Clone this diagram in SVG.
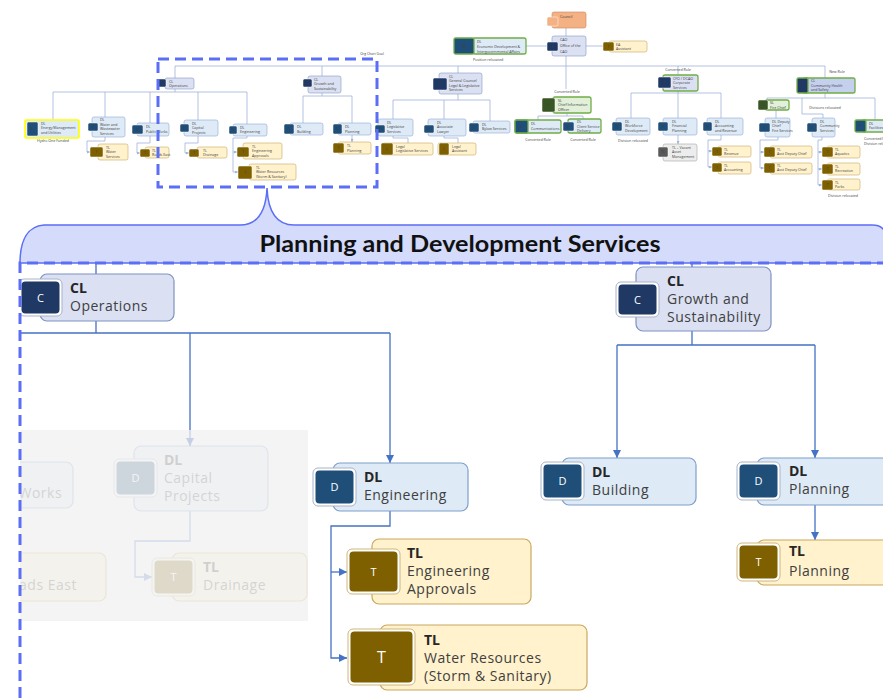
<svg xmlns="http://www.w3.org/2000/svg" width="883" height="698" viewBox="0 0 883 698">
<defs>
  <style>
    text{font-family:"Open Sans","Liberation Sans",sans-serif}
    /* overview chart */
    .ov text{font-size:3.6px;fill:#404040}
    .ovl{font-size:3.4px;fill:#404040;text-anchor:middle;font-family:"Open Sans",sans-serif}
    .o-cl{fill:#dbe1f3;stroke:#8497c5;stroke-width:.6}
    .o-dl{fill:#deeaf6;stroke:#8eaad6;stroke-width:.6}
    .o-tl{fill:#fff2cc;stroke:#c8a964;stroke-width:.6}
    .o-gy{fill:#ededed;stroke:#a6a6a6;stroke-width:.6}
    .o-or{fill:#f4b183;stroke:#c9865a;stroke-width:.6}
    .o-sl{fill:#e2efd9;stroke:#70ad47;stroke-width:1.3}
    .grn{stroke:#70ad47;stroke-width:1.3}
    .ob{stroke:#fff;stroke-width:.5}
    .ob-cl{fill:#1f3864}.ob-dl{fill:#1f4e79}.ob-tl{fill:#7f6000}.ob-sl{fill:#375623}.ob-gy{fill:#595959}.ob-or{fill:#f4b183}
    .oc{fill:#fff;font-size:3px;text-anchor:middle}
    .owire{fill:none;stroke:#9fb3dc;stroke-width:.8}
    /* detail chart */
    .box{stroke-width:1.2}
    .cl .box{fill:#dbe1f3;stroke:#7f92c2}
    .dl .box{fill:#deeaf6;stroke:#7f9fcc}
    .tl .box{fill:#fff2cc;stroke:#c9a85f}
    .frame{fill:#fff;stroke:#a8b3c7;stroke-width:1}
    .tl .frame{stroke:#cdb77c}
    .cl .chip{fill:#1f3864}
    .dl .chip{fill:#1f4e79}
    .tl .chip{fill:#7f6000}
    .ch{fill:#fff;font-size:11px;text-anchor:middle}
    .hd{font-weight:700;fill:#262626;font-size:14px}
    .tx{fill:#404040;font-size:14px;letter-spacing:.5px}
    .wire{fill:none;stroke:#4472c4;stroke-width:1.3}
    .dash{fill:none;stroke:#5b6ef5;stroke-width:3;stroke-dasharray:11 6}
  </style>
  <marker id="arr" viewBox="0 0 8 8" refX="8" refY="4" markerWidth="8" markerHeight="8" markerUnits="userSpaceOnUse" orient="auto">
    <path d="M0,0 L8,4 L0,8 z" fill="#4472c4"/>
  </marker>
  <marker id="arrs" viewBox="0 0 8 8" refX="8" refY="4" markerWidth="3" markerHeight="3" markerUnits="userSpaceOnUse" orient="auto">
    <path d="M0,0 L8,4 L0,8 z" fill="#9fb3dc"/>
  </marker>
  <clipPath id="detail-clip"><rect x="20" y="263" width="863" height="435"/></clipPath>
</defs>

<rect width="883" height="698" fill="#fff"/>

<!-- ===== Overview org chart ===== -->
<g id="overview-wires" class="owire">
  <path d="M566,28V36M586,46H603M552,46H526M566,56V89M175,66H825M175,66V78M322,66V76M458,66V73M678,66V75M825,66V78"/>
  <path d="M175,89V92M53,92H247M53,92V120M105,92V117M150,92V123M198,92V120M247,92V124"/>
  <path d="M105,137V141H87V152H90" marker-end="url(#arrs)"/>
  <path d="M150,136V143H137V153H140" marker-end="url(#arrs)"/>
  <path d="M198,136V143H185V153H189" marker-end="url(#arrs)"/>
  <path d="M247,136V138H233V172H238" marker-end="url(#arrs)"/>
  <path d="M233,152H237" marker-end="url(#arrs)"/>
  <path d="M322,93V96M303,96H352M303,96V123M352,96V123"/>
  <path d="M352,135V142" marker-end="url(#arrs)"/>
  <path d="M458,94V100M393,100H490M393,100V119M444,100V119M490,100V121"/>
  <path d="M393,136V138H408V143M444,136V138H458V143"/>
  <path d="M567,113V116M538,116H583M538,116V120M583,116V119"/>
  <path d="M678,91V93M631,93H721M631,93V118M678,93V118M721,93V118"/>
  <path d="M678,135V144" marker-end="url(#arrs)"/>
  <path d="M721,135V140H708V167H712" marker-end="url(#arrs)"/>
  <path d="M708,151H712" marker-end="url(#arrs)"/>
  <path d="M825,93V98M767,98H875M767,98V100M875,98V120M802,98V114H823V118M776,110V118"/>
  <path d="M778,137V140H760V168H764" marker-end="url(#arrs)"/>
  <path d="M760,152H764" marker-end="url(#arrs)"/>
  <path d="M822,137V140H818V185H822" marker-end="url(#arrs)"/>
  <path d="M818,152H822" marker-end="url(#arrs)"/>
  <path d="M818,169H822" marker-end="url(#arrs)"/>
</g>

<g class="ov">
  <g id="o-council"><rect class="o-or" x="552" y="12" width="34" height="16" rx="2"/><rect class="ob ob-or" x="547" y="17" width="11" height="9" rx="1.5"/><text x="560" y="17.5">Council</text></g>
  <g id="o-cao"><rect class="o-cl" x="552" y="36" width="34" height="20" rx="2"/><rect class="ob ob-cl" x="547" y="42" width="11" height="9" rx="1.5"/><text class="oc" x="552.5" y="47.5">E</text><text x="560" y="40.5">CAO</text><text x="560" y="47">Office of the</text><text x="560" y="52.5">CAO</text></g>
  <g id="o-ea"><rect class="o-tl" x="609" y="41" width="38" height="11" rx="2"/><rect class="ob ob-tl" x="603" y="42" width="11" height="9" rx="1.5"/><text class="oc" x="608.5" y="47.5">T</text><text x="616" y="45.5">EA</text><text x="616" y="50">Assistant</text></g>
  <g id="o-econ"><rect class="o-dl grn" x="473" y="38" width="53" height="16" rx="2"/><rect class="ob-dl grn" x="454" y="38" width="20" height="16" rx="1.5"/><text class="oc" x="464" y="47.5" style="font-size:5px">D</text><text x="477" y="43">DL</text><text x="477" y="48">Economic Development &amp;</text><text x="477" y="52.5">Intergovernmental Affairs</text></g>
  <text class="ovl" x="488" y="60.5">Position relocated</text>

  <g id="o-ops"><rect class="o-cl" x="165" y="78" width="29" height="11" rx="2"/><rect class="ob ob-cl" x="157" y="79" width="9" height="8" rx="1.5"/><text class="oc" x="161.5" y="84.2">C</text><text x="169" y="82.5">CL</text><text x="169" y="87">Operations</text></g>
  <g id="o-growth"><rect class="o-cl" x="308" y="76" width="33" height="17" rx="2"/><rect class="ob ob-cl" x="303" y="79" width="9" height="8" rx="1.5"/><text class="oc" x="307.5" y="84.2">C</text><text x="314" y="80.5">CL</text><text x="314" y="85">Growth and</text><text x="314" y="89.5">Sustainability</text></g>
  <g id="o-gc"><rect class="o-cl" x="439" y="73" width="43" height="21" rx="2"/><rect class="ob ob-cl" x="433" y="78" width="14" height="12" rx="1.5"/><text class="oc" x="440" y="85">C</text><text x="449" y="77.5">CL</text><text x="449" y="82">General Counsel</text><text x="449" y="86.5">Legal &amp; Legislative</text><text x="449" y="91">Services</text></g>
  <g id="o-cio"><rect class="o-sl" x="553" y="97" width="38" height="16" rx="2"/><rect class="ob ob-sl" x="542" y="98" width="13" height="14" rx="1.5"/><text class="oc" x="548.5" y="106">S</text><text x="558" y="101.5">SL</text><text x="558" y="106">Chief Information</text><text x="558" y="110.5">Officer</text></g>
  <text class="ovl" x="567" y="93">Converted Role</text>
  <g id="o-cfo"><rect class="o-cl grn" x="663" y="75" width="35" height="16" rx="2"/><rect class="ob ob-cl" x="658" y="77" width="13" height="11" rx="1.5"/><text class="oc" x="664.5" y="83.5">C</text><text x="673" y="79.5">CFO / DCAO</text><text x="673" y="84">Corporate</text><text x="673" y="88.5">Services</text></g>
  <text class="ovl" x="678" y="71">Converted Role</text>
  <g id="o-chs"><rect class="grn" fill="#c5d0ee" x="803" y="78" width="52" height="15" rx="2"/><rect class="ob-cl grn" x="797" y="78" width="11" height="15" rx="1.5"/><text class="oc" x="802.5" y="86.5">C</text><text x="811" y="82">CL</text><text x="811" y="86.5">Community Health</text><text x="811" y="91">and Safety</text></g>
  <text class="ovl" x="837" y="72.5">New Role</text>

  <g id="o-energy"><rect class="o-dl" x="25" y="120" width="54" height="18" rx="1" style="stroke:#ffff00;stroke-width:1.6"/><rect class="ob ob-dl" x="27" y="122" width="11" height="14" rx="1.5"/><text class="oc" x="32.5" y="130">D</text><text x="41" y="124.5">DL</text><text x="41" y="129">Energy Management</text><text x="41" y="133.5">and Utilities</text></g>
  <text class="ovl" x="53" y="142">Hydro One Funded</text>
  <g id="o-water"><rect class="o-dl" x="92" y="117" width="33" height="20" rx="2"/><rect class="ob ob-dl" x="88" y="123" width="10" height="8" rx="1.5"/><text class="oc" x="93" y="128.2">D</text><text x="100" y="121">DL</text><text x="100" y="125.5">Water and</text><text x="100" y="130">Wastewater</text><text x="100" y="134.5">Services</text></g>
  <g id="o-waters"><rect class="o-tl" x="98" y="144" width="30" height="16" rx="2"/><rect class="ob ob-tl" x="90" y="147" width="13" height="10" rx="1.5"/><text class="oc" x="96.5" y="153">T</text><text x="106" y="148.5">TL</text><text x="106" y="153">Water</text><text x="106" y="157.5">Services</text></g>
  <g id="o-public"><rect class="o-dl" x="137" y="123" width="32" height="13" rx="2"/><rect class="ob ob-dl" x="132" y="125" width="11" height="9" rx="1.5"/><text class="oc" x="137.5" y="130.5">D</text><text x="146" y="128">DL</text><text x="146" y="132.5">Public Works</text></g>
  <g id="o-roads"><rect class="o-tl" x="145" y="147" width="24" height="11" rx="2"/><rect class="ob ob-tl" x="140" y="149" width="10" height="8" rx="1.5"/><text class="oc" x="145" y="154.2">T</text><text x="152" y="151.5">TL</text><text x="152" y="156">Roads East</text></g>
  <g id="o-capital"><rect class="o-dl" x="184" y="120" width="34" height="16" rx="2"/><rect class="ob ob-dl" x="180" y="124" width="9" height="8" rx="1.5"/><text class="oc" x="184.5" y="129.2">D</text><text x="192" y="124.5">DL</text><text x="192" y="129">Capital</text><text x="192" y="133.5">Projects</text></g>
  <g id="o-drain"><rect class="o-tl" x="197" y="147" width="30" height="11" rx="2"/><rect class="ob ob-tl" x="189" y="149" width="10" height="8" rx="1.5"/><text class="oc" x="194" y="154.2">T</text><text x="203" y="151.5">TL</text><text x="203" y="156">Drainage</text></g>
  <g id="o-eng"><rect class="o-dl" x="233" y="124" width="34" height="12" rx="2"/><rect class="ob ob-dl" x="229" y="126" width="8" height="8" rx="1.5"/><text class="oc" x="233" y="131.2">D</text><text x="240" y="128.5">DL</text><text x="240" y="133">Engineering</text></g>
  <g id="o-engap"><rect class="o-tl" x="243" y="143" width="39" height="16" rx="2"/><rect class="ob ob-tl" x="237" y="147" width="12" height="10" rx="1.5"/><text class="oc" x="243" y="153">T</text><text x="252" y="147.5">TL</text><text x="252" y="152">Engineering</text><text x="252" y="156.5">Approvals</text></g>
  <g id="o-wres"><rect class="o-tl" x="249" y="164" width="47" height="16" rx="2"/><rect class="ob ob-tl" x="238" y="166" width="14" height="13" rx="1.5"/><text class="oc" x="245" y="173.5">T</text><text x="256" y="168.5">TL</text><text x="256" y="173">Water Resources</text><text x="256" y="177.5">(Storm &amp; Sanitary)</text></g>
  <g id="o-build"><rect class="o-dl" x="290" y="123" width="33" height="12" rx="2"/><rect class="ob ob-dl" x="284" y="124" width="10" height="10" rx="1.5"/><text class="oc" x="289" y="130.2">D</text><text x="297" y="127.5">DL</text><text x="297" y="132.5">Building</text></g>
  <g id="o-plan"><rect class="o-dl" x="338" y="123" width="33" height="12" rx="2"/><rect class="ob ob-dl" x="333" y="124" width="9" height="10" rx="1.5"/><text class="oc" x="337.5" y="130.2">D</text><text x="345" y="127.5">DL</text><text x="345" y="132.5">Planning</text></g>
  <g id="o-tplan"><rect class="o-tl" x="338" y="142" width="33" height="12" rx="2"/><rect class="ob ob-tl" x="333" y="143" width="11" height="10" rx="1.5"/><text class="oc" x="338.5" y="149.2">T</text><text x="347" y="146.5">TL</text><text x="347" y="151.5">Planning</text></g>
  <g id="o-legis"><rect class="o-dl" x="378" y="119" width="35" height="17" rx="2"/><rect class="ob ob-dl" x="375" y="125" width="10" height="8" rx="1.5"/><text class="oc" x="380" y="130.2">D</text><text x="387" y="123.5">DL</text><text x="387" y="128">Legislative</text><text x="387" y="132.5">Services</text></g>
  <g id="o-assoc"><rect class="o-dl" x="428" y="119" width="38" height="17" rx="2"/><rect class="ob ob-dl" x="424" y="125" width="10" height="8" rx="1.5"/><text class="oc" x="429" y="130.2">D</text><text x="437" y="123.5">DL</text><text x="437" y="128">Associate</text><text x="437" y="132.5">Lawyer</text></g>
  <g id="o-bylaw"><rect class="o-dl" x="473" y="121" width="37" height="12" rx="2"/><rect class="ob ob-dl" x="469" y="123" width="10" height="9" rx="1.5"/><text class="oc" x="474" y="128.6">D</text><text x="482" y="125.5">DL</text><text x="482" y="130">Bylaw Services</text></g>
  <g id="o-legal1"><rect class="o-tl" x="382" y="143" width="51" height="12" rx="2"/><rect class="ob ob-tl" x="381" y="143" width="12" height="12" rx="1.5"/><text class="oc" x="387" y="150.2">L</text><text x="396" y="147.5">Legal</text><text x="396" y="152">Legislative Services</text></g>
  <g id="o-legal2"><rect class="o-tl" x="438" y="143" width="38" height="12" rx="2"/><rect class="ob ob-tl" x="439" y="143" width="10" height="12" rx="1.5"/><text class="oc" x="444" y="150.2">L</text><text x="452" y="147.5">Legal</text><text x="452" y="152">Assistant</text></g>
  <g id="o-comm"><rect class="o-dl grn" x="515" y="120" width="46" height="13" rx="2"/><rect class="ob-dl grn" x="515" y="120" width="13" height="13" rx="1.5"/><text class="oc" x="521.5" y="127.8">D</text><text x="531" y="125">DL</text><text x="531" y="130">Communications</text></g>
  <text class="ovl" x="538" y="141">Converted Role</text>
  <g id="o-client"><rect class="o-dl grn" x="568" y="119" width="33" height="14" rx="2"/><rect class="ob ob-dl" x="563" y="122" width="11" height="9" rx="1.5"/><text class="oc" x="568.5" y="127.6">D</text><text x="577" y="123">DL</text><text x="577" y="127.5">Client Service</text><text x="577" y="132">Delivery</text></g>
  <text class="ovl" x="583" y="141">Converted Role</text>
  <g id="o-work"><rect class="o-dl" x="616" y="118" width="34" height="17" rx="2"/><rect class="ob ob-dl" x="612" y="122" width="10" height="9" rx="1.5"/><text class="oc" x="617" y="127.6">D</text><text x="625" y="122.5">DL</text><text x="625" y="127">Workforce</text><text x="625" y="131.5">Development</text></g>
  <text class="ovl" x="633" y="141.5">Division relocated</text>
  <g id="o-fin"><rect class="o-dl" x="663" y="118" width="34" height="17" rx="2"/><rect class="ob ob-dl" x="658" y="122" width="10" height="9" rx="1.5"/><text class="oc" x="663" y="127.6">D</text><text x="672" y="122.5">DL</text><text x="672" y="127">Financial</text><text x="672" y="131.5">Planning</text></g>
  <g id="o-vacant"><rect class="o-gy" x="663" y="144" width="34" height="17" rx="2"/><rect class="ob ob-gy" x="658" y="147" width="10" height="10" rx="1.5"/><text class="oc" x="663" y="153">TL</text><text x="672" y="148.5">TL – Vacant</text><text x="672" y="153">Asset</text><text x="672" y="157.5">Management</text></g>
  <g id="o-acct"><rect class="o-dl" x="707" y="118" width="36" height="17" rx="2"/><rect class="ob ob-dl" x="703" y="122" width="9" height="9" rx="1.5"/><text class="oc" x="707.5" y="127.6">D</text><text x="715" y="122.5">DL</text><text x="715" y="127">Accounting</text><text x="715" y="131.5">and Revenue</text></g>
  <g id="o-rev"><rect class="o-tl" x="718" y="146" width="33" height="11" rx="2"/><rect class="ob ob-tl" x="712" y="147" width="10" height="9" rx="1.5"/><text class="oc" x="717" y="152.6">T</text><text x="724" y="150.5">TL</text><text x="724" y="155">Revenue</text></g>
  <g id="o-acc"><rect class="o-tl" x="718" y="162" width="33" height="12" rx="2"/><rect class="ob ob-tl" x="712" y="163" width="10" height="9" rx="1.5"/><text class="oc" x="717" y="168.6">T</text><text x="724" y="166.5">TL</text><text x="724" y="171">Accounting</text></g>
  <g id="o-fire"><rect class="o-sl" x="765" y="100" width="24" height="10" rx="2"/><rect class="ob ob-sl" x="758" y="100" width="10" height="10" rx="1.5"/><text class="oc" x="763" y="106.2">S</text><text x="770" y="104">SL</text><text x="770" y="108.5">Fire Chief</text></g>
  <text class="ovl" x="825" y="109">Divisions relocated</text>
  <g id="o-deputy"><rect class="o-dl" x="765" y="118" width="25" height="19" rx="2"/><rect class="ob ob-dl" x="759" y="123" width="11" height="9" rx="1.5"/><text class="oc" x="764.5" y="128.6">D</text><text x="772" y="122.5">DL Deputy</text><text x="772" y="127">Chief</text><text x="772" y="131.5">Fire Services</text></g>
  <g id="o-adc1"><rect class="o-tl" x="770" y="146" width="42" height="12" rx="2"/><rect class="ob ob-tl" x="764" y="147" width="11" height="10" rx="1.5"/><text class="oc" x="769.5" y="153">T</text><text x="777" y="150.5">TL</text><text x="777" y="155">Asst Deputy Chief</text></g>
  <g id="o-adc2"><rect class="o-tl" x="770" y="163" width="42" height="11" rx="2"/><rect class="ob ob-tl" x="764" y="163" width="11" height="10" rx="1.5"/><text class="oc" x="769.5" y="169">T</text><text x="777" y="166.5">TL</text><text x="777" y="171">Asst Deputy Chief</text></g>
  <g id="o-cs"><rect class="o-dl" x="812" y="118" width="23" height="19" rx="2"/><rect class="ob ob-dl" x="807" y="123" width="10" height="9" rx="1.5"/><text class="oc" x="812" y="128.6">D</text><text x="820" y="122.5">DL</text><text x="820" y="127">Community</text><text x="820" y="131.5">Services</text></g>
  <g id="o-aqua"><rect class="o-tl" x="827" y="146" width="33" height="12" rx="2"/><rect class="ob ob-tl" x="822" y="147" width="11" height="10" rx="1.5"/><text class="oc" x="827.5" y="153">T</text><text x="835" y="150.5">TL</text><text x="835" y="155">Aquatics</text></g>
  <g id="o-rec"><rect class="o-tl" x="827" y="163" width="33" height="12" rx="2"/><rect class="ob ob-tl" x="822" y="164" width="11" height="10" rx="1.5"/><text class="oc" x="827.5" y="170">T</text><text x="835" y="167.5">TL</text><text x="835" y="172">Recreation</text></g>
  <g id="o-parks"><rect class="o-tl" x="827" y="179" width="33" height="11" rx="2"/><rect class="ob ob-tl" x="822" y="180" width="11" height="10" rx="1.5"/><text class="oc" x="827.5" y="186">T</text><text x="835" y="183.5">TL</text><text x="835" y="188">Parks</text></g>
  <text class="ovl" x="843" y="197">Division relocated</text>
  <g id="o-facil"><rect class="o-dl grn" x="862" y="120" width="30" height="12" rx="2"/><rect class="ob-dl grn" x="855" y="120" width="11" height="12" rx="1.5"/><text class="oc" x="860.5" y="127.2">D</text><text x="869" y="124.5">DL</text><text x="869" y="129">Facilities</text></g>
  <text x="864" y="140">Converted Role</text>
  <text x="864" y="144.5">Division relocated</text>
</g>

<!-- highlight frame around the Planning and Development branch -->
<rect class="dash" x="158" y="59" width="219" height="128"/>
<text class="ovl" x="372" y="55">Org Chart Goal</text>

<!-- ===== Callout banner ===== -->
<path d="M20,263 C20,240 28,226 44,225 L240,225 C258,225 266,210 267,188 C268,210 276,225 294,225 L872,225 Q886,225 886,238 L886,263 Z" fill="#d4dbfb" stroke="#5b6ef5" stroke-width="1.5"/>
<text x="460" y="252" text-anchor="middle" textLength="401" lengthAdjust="spacingAndGlyphs" style="font-family:Lato,'Open Sans',sans-serif;font-weight:700;font-size:22px;fill:#111">Planning and Development Services</text>

<!-- ===== Detail chart ===== -->
<g id="detail" clip-path="url(#detail-clip)">
  <!-- faded, out-of-scope units -->
  <g id="faded">
    <path class="wire" d="M190,511V541H135V577H152" marker-end="url(#arr)"/>
    <g id="n-public" class="dl">
      <rect class="box" x="-60" y="462" width="133" height="46" rx="7"/>
      <text class="tx" x="-28" y="498">Public Works</text>
    </g>
    <g id="n-capital" class="dl">
      <rect class="box" x="134" y="446" width="134" height="65" rx="7"/>
      <rect class="frame" x="114" y="459" width="43" height="38" rx="5"/>
      <rect class="chip" x="116.5" y="461.5" width="38" height="33" rx="4"/>
      <text class="ch" x="135.5" y="482">D</text>
      <text class="hd" x="164" y="465">DL</text>
      <text class="tx" x="164" y="483">Capital</text>
      <text class="tx" x="164" y="501">Projects</text>
    </g>
    <g id="n-roads" class="tl">
      <rect class="box" x="-40" y="553" width="146" height="48" rx="7"/>
      <text class="tx" x="1" y="590">Roads East</text>
    </g>
    <g id="n-drainage" class="tl">
      <rect class="box" x="172" y="553" width="135" height="48" rx="7"/>
      <rect class="frame" x="152" y="558" width="43" height="38" rx="5"/>
      <rect class="chip" x="154.5" y="560.5" width="38" height="33" rx="4"/>
      <text class="ch" x="173.5" y="581">T</text>
      <text class="hd" x="203" y="572">TL</text>
      <text class="tx" x="203" y="590">Drainage</text>
    </g>
    <rect x="20" y="430" width="288" height="191" fill="#f2f2f2" fill-opacity="0.83"/>
  </g>

  <g id="connectors">
    <path class="wire" d="M96,263V274M96,321V333M20,333H390M692,263V267M692,331V345M617,345H815"/>
    <path class="wire" d="M190,333V430"/>
    <path class="wire" d="M390,333V463" marker-end="url(#arr)"/>
    <path class="wire" d="M390,511V526H331V658H347" marker-end="url(#arr)"/>
    <path class="wire" d="M331,572H347" marker-end="url(#arr)"/>
    <path class="wire" d="M617,345V458" marker-end="url(#arr)"/>
    <path class="wire" d="M815,345V458" marker-end="url(#arr)"/>
    <path class="wire" d="M815,505V540" marker-end="url(#arr)"/>
  </g>
  <!-- faded tail of the Capital Projects arrow -->
  <path d="M190,430V446" fill="none" stroke="#c5d0e6" stroke-width="1.3"/>
  <path d="M186,438 L190,446 L194,438 z" fill="#c5d0e6"/>

  <g id="n-ops" class="cl">
    <rect class="box" x="40" y="274" width="134" height="47" rx="7"/>
    <rect class="frame" x="19" y="279" width="43" height="37" rx="5"/>
    <rect class="chip" x="21.5" y="281.5" width="38" height="32" rx="4"/>
    <text class="ch" x="40.5" y="301.5">C</text>
    <text class="hd" x="70" y="293">CL</text>
    <text class="tx" x="70" y="311">Operations</text>
  </g>
  <g id="n-growth" class="cl">
    <rect class="box" x="636" y="267" width="135" height="64" rx="7"/>
    <rect class="frame" x="616" y="282" width="43" height="35" rx="5"/>
    <rect class="chip" x="618.5" y="284.5" width="38" height="30" rx="4"/>
    <text class="ch" x="637.5" y="303.5">C</text>
    <text class="hd" x="667" y="286">CL</text>
    <text class="tx" x="667" y="304">Growth and</text>
    <text class="tx" x="667" y="322">Sustainability</text>
  </g>
  <g id="n-eng" class="dl">
    <rect class="box" x="333" y="463" width="135" height="48" rx="7"/>
    <rect class="frame" x="313" y="468" width="43" height="38" rx="5"/>
    <rect class="chip" x="315.5" y="470.5" width="38" height="33" rx="4"/>
    <text class="ch" x="334.5" y="491">D</text>
    <text class="hd" x="364" y="482">DL</text>
    <text class="tx" x="364" y="500">Engineering</text>
  </g>
  <g id="n-engap" class="tl">
    <rect class="box" x="372" y="539" width="159" height="65" rx="7"/>
    <rect class="frame" x="347" y="549" width="53" height="45" rx="5"/>
    <rect class="chip" x="349.5" y="551.5" width="48" height="40" rx="4"/>
    <text class="ch" x="373.5" y="575.5">T</text>
    <text class="hd" x="407" y="558">TL</text>
    <text class="tx" x="407" y="576">Engineering</text>
    <text class="tx" x="407" y="594">Approvals</text>
  </g>
  <g id="n-wres" class="tl">
    <rect class="box" x="380" y="625" width="207" height="65" rx="7"/>
    <rect class="frame" x="348" y="629" width="67" height="56" rx="5"/>
    <rect class="chip" x="350.5" y="631.5" width="62" height="51" rx="4"/>
    <text class="ch" x="381.5" y="663" style="font-size:16px">T</text>
    <text class="hd" x="424" y="645">TL</text>
    <text class="tx" x="424" y="663">Water Resources</text>
    <text class="tx" x="424" y="681">(Storm &amp; Sanitary)</text>
  </g>
  <g id="n-build" class="dl">
    <rect class="box" x="562" y="458" width="134" height="47" rx="7"/>
    <rect class="frame" x="541" y="462" width="43" height="38" rx="5"/>
    <rect class="chip" x="543.5" y="464.5" width="38" height="33" rx="4"/>
    <text class="ch" x="562.5" y="485">D</text>
    <text class="hd" x="592" y="477">DL</text>
    <text class="tx" x="592" y="495">Building</text>
  </g>
  <g id="n-plan" class="dl">
    <rect class="box" x="757" y="458" width="140" height="47" rx="7"/>
    <rect class="frame" x="737" y="462" width="43" height="38" rx="5"/>
    <rect class="chip" x="739.5" y="464.5" width="38" height="33" rx="4"/>
    <text class="ch" x="758.5" y="485">D</text>
    <text class="hd" x="789" y="476">DL</text>
    <text class="tx" x="789" y="494">Planning</text>
  </g>
  <g id="n-tplan" class="tl">
    <rect class="box" x="757" y="540" width="140" height="45" rx="7"/>
    <rect class="frame" x="737" y="543" width="43" height="38" rx="5"/>
    <rect class="chip" x="739.5" y="545.5" width="38" height="33" rx="4"/>
    <text class="ch" x="758.5" y="566">T</text>
    <text class="hd" x="789" y="556">TL</text>
    <text class="tx" x="789" y="576">Planning</text>
  </g>
</g>

<!-- dashed frame of the detail area -->
<path class="dash" d="M20,698V263H886"/>
</svg>
